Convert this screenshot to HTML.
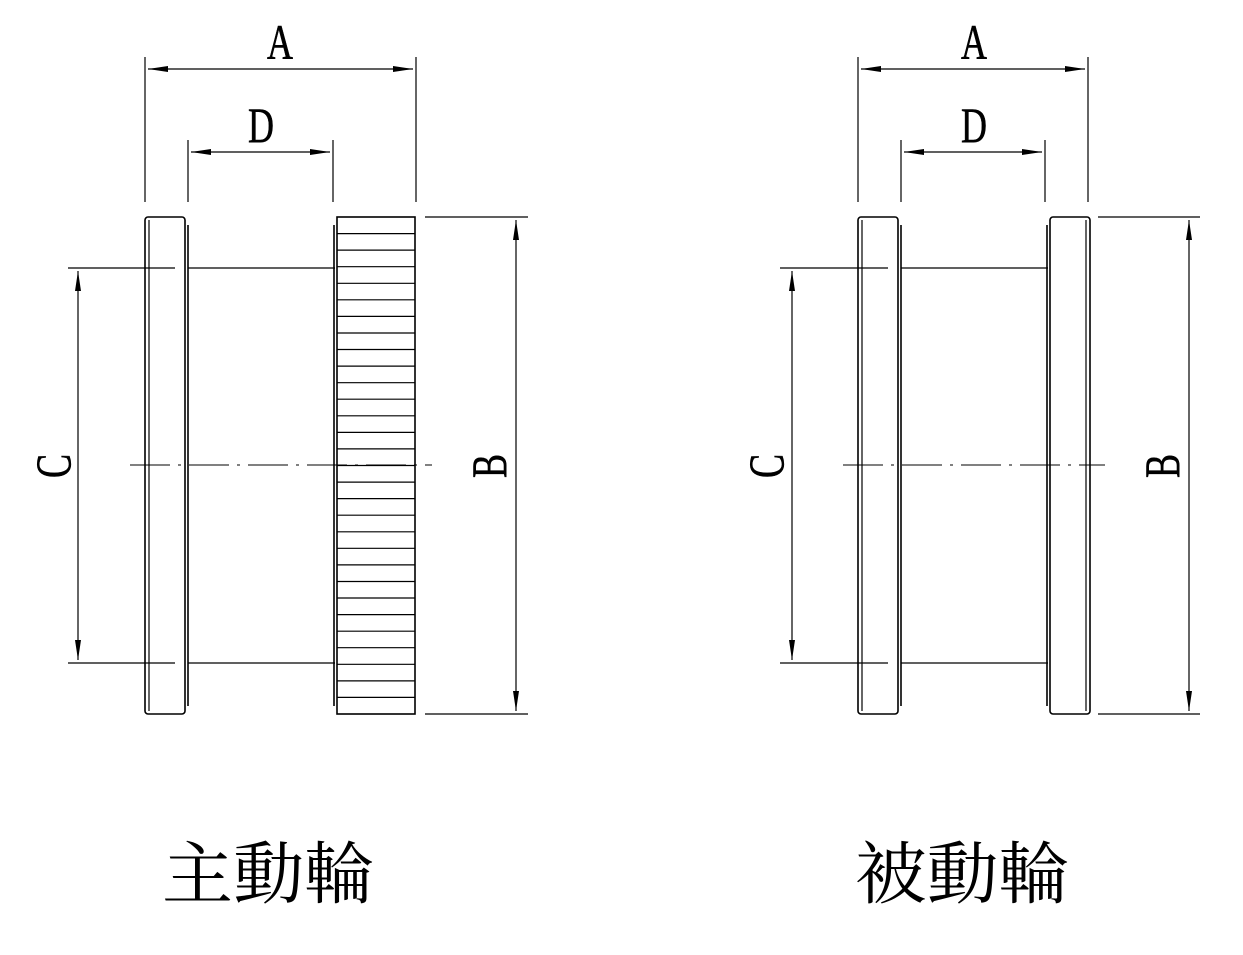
<!DOCTYPE html>
<html><head><meta charset="utf-8"><style>
html,body{margin:0;padding:0;background:#fff;}
svg{display:block}
.l{stroke:#000;stroke-width:1.6;fill:none}
.t{stroke:#000;stroke-width:1.2;fill:none}
.c{stroke:#000;stroke-width:1.1;fill:none;stroke-dasharray:40 8 3 8}
.lt{font-family:"Liberation Serif",serif;font-size:50px;fill:#000;stroke:#000;stroke-width:0.6}
.cj{font-family:"Liberation Serif","Noto Serif CJK SC","Noto Sans CJK TC",serif;font-size:68px;fill:#000}
</style></head><body>
<svg width="1243" height="955" viewBox="0 0 1243 955" xmlns="http://www.w3.org/2000/svg">
<defs>
<marker id="ar" viewBox="0 0 20 8" refX="20" refY="4" markerWidth="20" markerHeight="8" markerUnits="userSpaceOnUse" orient="auto-start-reverse">
<path d="M0,1 L20,4 L0,7 Z" fill="#000"/></marker>
</defs>

<g>
<line class="t" x1="145" y1="57" x2="145" y2="202"/>
<line class="t" x1="416" y1="57" x2="416" y2="202"/>
<line class="t" x1="188" y1="140" x2="188" y2="202"/>
<line class="t" x1="333" y1="140" x2="333" y2="202"/>
<line class="t" x1="148" y1="69" x2="413" y2="69" marker-start="url(#ar)" marker-end="url(#ar)"/>
<line class="t" x1="191" y1="152" x2="330" y2="152" marker-start="url(#ar)" marker-end="url(#ar)"/>
<g transform="translate(280,59) scale(0.72,1)"><text class="lt" text-anchor="middle">A</text></g>
<g transform="translate(261,142) scale(0.72,1)"><text class="lt" text-anchor="middle">D</text></g>
<rect class="l" x="145" y="217" width="40" height="497" rx="3"/>
<line class="t" x1="149" y1="220" x2="149" y2="711"/>
<line class="l" x1="188" y1="225" x2="188" y2="706"/>
<line class="t" x1="68" y1="268" x2="175" y2="268"/>
<line class="t" x1="188" y1="268" x2="335" y2="268"/>
<line class="t" x1="68" y1="663" x2="175" y2="663"/>
<line class="t" x1="188" y1="663" x2="335" y2="663"/>
<rect class="l" x="337" y="217" width="78" height="497"/>
<line class="l" x1="334" y1="225" x2="334" y2="706"/>
<line class="t" x1="78" y1="271" x2="78" y2="660" marker-start="url(#ar)" marker-end="url(#ar)"/>
<g transform="translate(70,466) rotate(-90) scale(0.72,1)"><text class="lt" text-anchor="middle">C</text></g>
<line class="t" x1="425" y1="217" x2="528" y2="217"/>
<line class="t" x1="425" y1="714" x2="528" y2="714"/>
<line class="t" x1="516" y1="220" x2="516" y2="711" marker-start="url(#ar)" marker-end="url(#ar)"/>
<g transform="translate(506,466) rotate(-90) scale(0.72,1)"><text class="lt" text-anchor="middle">B</text></g>
<line class="c" x1="130" y1="465" x2="432" y2="465"/>
<text class="cj" x="162" y="898" textLength="213" lengthAdjust="spacingAndGlyphs">主動輪</text>
</g>

<g>
<line class="t" x1="858" y1="57" x2="858" y2="202"/>
<line class="t" x1="1088" y1="57" x2="1088" y2="202"/>
<line class="t" x1="901" y1="140" x2="901" y2="202"/>
<line class="t" x1="1045" y1="140" x2="1045" y2="202"/>
<line class="t" x1="861" y1="69" x2="1085" y2="69" marker-start="url(#ar)" marker-end="url(#ar)"/>
<line class="t" x1="904" y1="152" x2="1042" y2="152" marker-start="url(#ar)" marker-end="url(#ar)"/>
<g transform="translate(974,59) scale(0.72,1)"><text class="lt" text-anchor="middle">A</text></g>
<g transform="translate(974,142) scale(0.72,1)"><text class="lt" text-anchor="middle">D</text></g>
<rect class="l" x="858" y="217" width="40" height="497" rx="3"/>
<line class="t" x1="862" y1="220" x2="862" y2="711"/>
<line class="l" x1="901" y1="225" x2="901" y2="706"/>
<line class="t" x1="780" y1="268" x2="888" y2="268"/>
<line class="t" x1="901" y1="268" x2="1048" y2="268"/>
<line class="t" x1="780" y1="663" x2="888" y2="663"/>
<line class="t" x1="901" y1="663" x2="1048" y2="663"/>
<rect class="l" x="1050" y="217" width="40" height="497" rx="3"/>
<line class="t" x1="1086" y1="220" x2="1086" y2="711"/>
<line class="l" x1="1047" y1="225" x2="1047" y2="706"/>
<line class="t" x1="792" y1="271" x2="792" y2="660" marker-start="url(#ar)" marker-end="url(#ar)"/>
<g transform="translate(783,466) rotate(-90) scale(0.72,1)"><text class="lt" text-anchor="middle">C</text></g>
<line class="t" x1="1098" y1="217" x2="1200" y2="217"/>
<line class="t" x1="1098" y1="714" x2="1200" y2="714"/>
<line class="t" x1="1189" y1="220" x2="1189" y2="711" marker-start="url(#ar)" marker-end="url(#ar)"/>
<g transform="translate(1179,466) rotate(-90) scale(0.72,1)"><text class="lt" text-anchor="middle">B</text></g>
<line class="c" x1="843" y1="465" x2="1105" y2="465"/>
<text class="cj" x="855" y="898" textLength="215" lengthAdjust="spacingAndGlyphs">被動輪</text>
</g>

<g class="t">
<path d="M337 233.6H415M337 250.1H415M337 266.7H415M337 283.3H415M337 299.8H415M337 316.4H415M337 333H415M337 349.5H415M337 366.1H415M337 382.7H415M337 399.2H415M337 415.8H415M337 432.4H415M337 448.9H415M337 465.5H415M337 482.1H415M337 498.6H415M337 515.2H415M337 531.8H415M337 548.3H415M337 564.9H415M337 581.5H415M337 598H415M337 614.6H415M337 631.2H415M337 647.7H415M337 664.3H415M337 680.9H415M337 697.4H415"/>
</g>
</svg>
</body></html>
